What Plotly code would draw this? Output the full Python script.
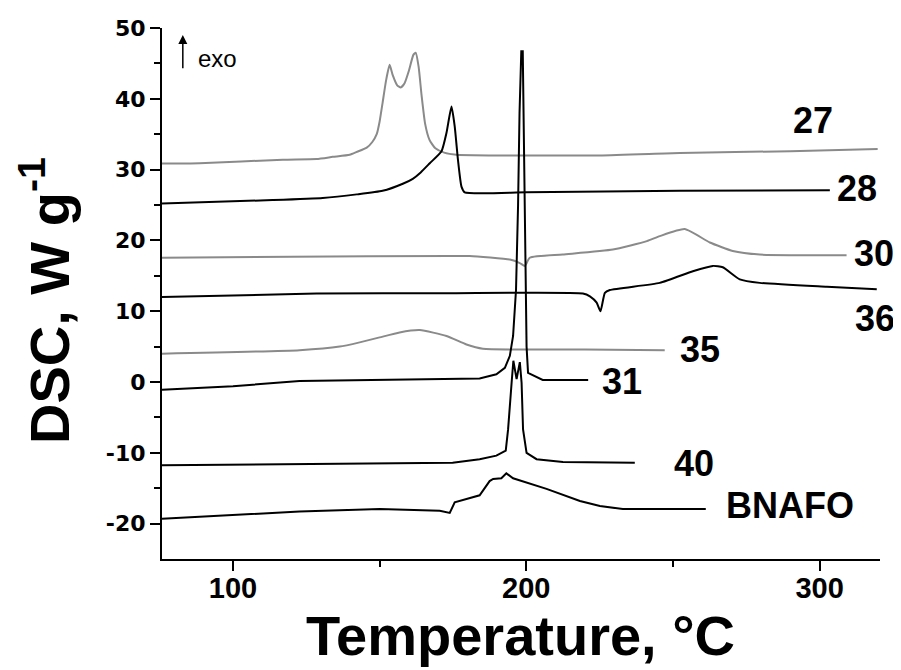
import plotly.graph_objects as go

# ---- data (temperature in °C, DSC signal in W/g, offset curves) ----
x27 = [75.8, 88.6, 117, 128.5, 134, 139.8, 142.2, 145.6, 147.5, 149, 150, 151, 152.2, 153.4, 154.5, 156, 157.2, 158.5, 160, 161.5, 162.3, 163.3, 164.3, 165.5, 167, 169, 172, 176.2, 225, 252.3, 290, 319.8]
y27 = [30.85, 30.9, 31.4, 31.5, 31.8, 32.1, 32.5, 33.1, 33.9, 35.0, 36.8, 39.4, 42.6, 44.8, 43.3, 41.9, 41.6, 42.2, 44.0, 46.2, 46.5, 44.5, 40.5, 36.5, 34.2, 33.0, 32.4, 32.1, 32.0, 32.35, 32.6, 32.9]

x28 = [75.8, 113.5, 130.6, 142.2, 151, 157.9, 161.3, 164, 167.1, 171.1, 172.8, 174.5, 175.6, 176.7, 177.9, 179, 200, 252.3, 303.5]
y28 = [25.2, 25.7, 26.0, 26.5, 27.0, 28.0, 28.7, 29.6, 30.9, 32.6, 35.2, 38.9, 36.1, 31.4, 27.6, 26.8, 26.8, 27.0, 27.1]

x30 = [75.8, 120, 173.9, 180.7, 194.4, 197.8, 199.5, 201.2, 212.4, 229.5, 241.1, 245.5, 254, 262.6, 270.4, 279.6, 309.2]
y30 = [17.55, 17.7, 17.8, 17.8, 17.3, 16.8, 16.4, 17.55, 18.0, 18.7, 19.9, 20.6, 21.6, 19.7, 18.5, 18.0, 17.9]

x36 = [75.8, 128.5, 173.9, 219.3, 221.7, 224, 225.3, 226.8, 228.5, 245.5, 256.8, 263.6, 267, 272.8, 279.6, 302.5, 319.5]
y36 = [12.0, 12.5, 12.55, 12.5, 12.1, 11.2, 10.0, 12.6, 13.0, 14.0, 15.65, 16.4, 16.2, 14.5, 14.0, 13.45, 13.1]

x35 = [75.8, 122.7, 136.4, 143.2, 150, 156.8, 163.7, 172.8, 179.6, 185.2, 220, 247.2]
y35 = [4.0, 4.5, 5.0, 5.6, 6.3, 7.0, 7.33, 6.5, 5.3, 4.7, 4.6, 4.5]

x31 = [75.8, 100, 122.7, 150, 184.1, 189.8, 192.7, 194.4, 195.5, 196.5, 197.2, 197.7, 198.3, 198.8, 199.3, 199.7, 200.1, 200.6, 205.6, 221.1]
y31 = [-1.1, -0.6, 0.15, 0.3, 0.5, 1.1, 2.0, 3.7, 6.5, 13.0, 25.0, 38.0, 46.7, 46.7, 30.0, 12.0, 5.0, 1.3, 0.3, 0.3]

x40 = [75.8, 122.7, 150, 174.9, 184.1, 189.8, 193, 193.8, 195, 195.6, 196.7, 197.8, 198.4, 198.9, 200.1, 203.5, 212.5, 237]
y40 = [-11.75, -11.6, -11.47, -11.4, -10.9, -10.4, -9.7, -6.7, -0.1, 3.0, 0.4, 2.8, -0.1, -6.7, -10.0, -10.9, -11.3, -11.4]

xB = [75.8, 122.7, 150, 170.5, 173.9, 175.6, 184.1, 187.5, 188.7, 191.5, 193.2, 195.5, 206.9, 218.3, 225.1, 232.9, 261.2]
yB = [-19.3, -18.3, -17.95, -18.2, -18.5, -17.0, -16.0, -14.0, -13.7, -13.6, -12.9, -13.6, -15.1, -16.8, -17.5, -17.95, -17.95]

names = ["27", "28", "30", "36", "35", "31", "40", "BNAFO"]
label_x = [297.7, 312.7, 318.5, 318.9, 259.1, 232.7, 257.1, 289.9]
label_y = [36.98, 27.39, 18.22, 8.98, 4.61, 0.03, -11.47, -17.46]

x_tickvals = [100, 200, 300]
x_ticktext = ["100", "200", "300"]
y_tickvals = [-20, -10, 0, 10, 20, 30, 40, 50]
y_ticktext = ["-20", "-10", "0", "10", "20", "30", "40", "50"]

GRAY = "#8a8a8a"
BLACK = "#000000"

curves = [
    (x27, y27, GRAY, "spline"), (x28, y28, BLACK, "spline"), (x30, y30, GRAY, "spline"),
    (x36, y36, BLACK, "spline"), (x35, y35, GRAY, "spline"), (x31, y31, BLACK, "linear"),
    (x40, y40, BLACK, "linear"), (xB, yB, BLACK, "linear"),
]

fig = go.Figure()
for xs, ys, col, shp in curves:
    fig.add_trace(go.Scatter(x=xs, y=ys, mode="lines",
                             line=dict(color=col, width=2, shape=shp, smoothing=0.5),
                             showlegend=False, hoverinfo="skip"))

LAB_FONT = dict(family="Liberation Sans, Arial, sans-serif", size=36, color="black", weight="bold")
for n, lx, ly in zip(names, label_x, label_y):
    fig.add_annotation(x=lx, y=ly, xref="x", yref="y", text=n, showarrow=False,
                       font=LAB_FONT, xanchor="center", yanchor="middle")

# exo arrow
fig.add_annotation(x=82.9, y=49.0, ax=82.9, ay=44.1, xref="x", yref="y",
                   axref="x", ayref="y", text="", showarrow=True,
                   arrowhead=2, arrowsize=1.2, arrowwidth=1.5, arrowcolor="black")
fig.add_annotation(x=94.6, y=45.7, xref="x", yref="y", text="exo", showarrow=False,
                   font=dict(family="Liberation Sans, Arial, sans-serif", size=24, color="black"),
                   xanchor="center", yanchor="middle")

# plot area in figure pixels: left 154, top 20, width 718, height 531
PL, PT, PW, PH = 154, 20, 718, 531

def px(xp):
    return (xp - PL) / PW

def py(yp):
    return (PT + PH - yp) / PH

fig.add_annotation(x=px(512), y=py(627), xref="paper", yref="paper",
                   text="Temperature, °C", showarrow=False,
                   font=dict(family="Liberation Sans, Arial, sans-serif", size=56, color="black", weight="bold"),
                   xanchor="center", yanchor="middle")
fig.add_annotation(x=px(37), y=py(293), xref="paper", yref="paper",
                   text="DSC, W g<sup>-1</sup>", showarrow=False, textangle=-90,
                   font=dict(family="Liberation Sans, Arial, sans-serif", size=56, color="black", weight="bold"),
                   xanchor="center", yanchor="middle")

axis_common = dict(showline=True, linecolor="black", linewidth=2, ticks="outside",
                   ticklen=10, tickwidth=2, tickcolor="black", showgrid=False,
                   zeroline=False, mirror=False)

fig.update_xaxes(range=[75.8, 320.6], tickmode="array", tickvals=x_tickvals, ticktext=x_ticktext,
                 tickfont=dict(family="Liberation Sans, Arial, sans-serif", size=29, color="black", weight="bold"),
                 ticklabelstandoff=-8,
                 minor=dict(tickmode="array", tickvals=[150, 250], ticks="outside", ticklen=6,
                            tickwidth=2, tickcolor="black", showgrid=False),
                 **axis_common)
fig.update_yaxes(range=[-25, 50], tickmode="array", tickvals=y_tickvals, ticktext=y_ticktext,
                 tickfont=dict(family="DejaVu Sans, sans-serif", size=22, color="black", weight="bold"),
                 minor=dict(tickmode="array", tickvals=[-15, -5, 5, 15, 25, 35, 45], ticks="outside",
                            ticklen=6, tickwidth=2, tickcolor="black", showgrid=False),
                 **axis_common)

fig.update_layout(width=901, height=670, plot_bgcolor="white", paper_bgcolor="white",
                  margin=dict(l=PL, r=901 - PL - PW, t=PT, b=670 - PT - PH, autoexpand=False))

fig.write_html("out.html")
